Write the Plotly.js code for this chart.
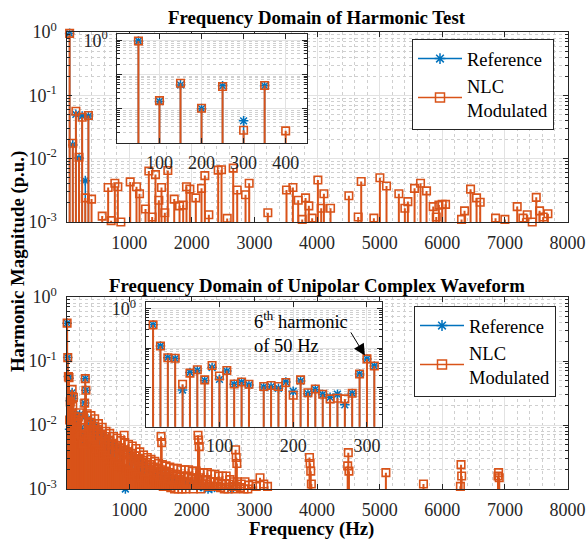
<!DOCTYPE html>
<html><head><meta charset="utf-8">
<script src="https://cdn.plot.ly/plotly-3.0.1.min.js"></script>
<style>html,body{margin:0;padding:0;background:#fff}#chart{width:588px;height:542px}</style>
</head><body><div id="chart"></div>
<script>
// ---------- Top panel: Frequency Domain of Harmonic Test ----------
const harmRefFreq = [50, 100, 150, 200, 250, 300, 350];
const harmRefVal  = [0.95, 0.0165, 0.050, 0.0102, 0.047, 0.0045, 0.047];

const harmNlcFreq = [50, 100, 150, 200, 250, 300, 350, 400,
  570, 665, 713, 772, 820, 868, 1017, 1118, 1166, 1262, 1315, 1368, 1421, 1475, 1517, 1570,
  1618, 1720, 1805, 1863, 1916, 1970, 2065, 2156, 2209, 2273, 2422, 2475, 2566, 2662, 2726,
  2859, 2917, 3215, 3513, 3615, 3700, 3764, 3817, 3870, 3923, 4014, 4067, 4110, 4216, 4509,
  4658, 4706, 4908, 5004, 5110, 5307, 5403, 5451, 5558, 5653, 5749, 5856, 5904, 5946, 5999,
  6053, 6308, 6356, 6452, 6548, 6606, 6851, 7000, 7197, 7288, 7357, 7437, 7501, 7554, 7612, 7687];
const harmNlcVal = [0.95, 0.0175, 0.056, 0.0105, 0.045, 0.0024, 0.048, 0.0023,
  0.00124, 0.0035, 0.00105, 0.0041, 0.0036, 0.0010, 0.0043, 0.0036, 0.0028, 0.0016, 0.0064, 0.0012, 0.0056, 0.0022, 0.0035, 0.0014,
  0.0065, 0.0023, 0.0018, 0.00185, 0.0036, 0.0033, 0.0024, 0.0034, 0.0054, 0.0013, 0.0066, 0.0067, 0.00114, 0.0071, 0.0032,
  0.0027, 0.0041, 0.0014, 0.0032, 0.0035, 0.0022, 0.0011, 0.0024, 0.0018, 0.00115, 0.0046, 0.00165, 0.0028, 0.00165, 0.0026,
  0.0012, 0.00435, 0.00115, 0.0050, 0.0037, 0.0028, 0.00165, 0.0021, 0.0034, 0.0041, 0.0031, 0.00175, 0.0012, 0.00185, 0.0019,
  0.0019, 0.0011, 0.0015, 0.0033, 0.0024, 0.00205, 0.00115, 0.0011, 0.00175, 0.00115, 0.0013, 0.0010, 0.00245, 0.0015, 0.0012, 0.00135];

// ---------- Bottom panel: Unipolar Complex Waveform ----------
const lowFreqB = [10, 20, 30, 40, 50, 60, 70, 80, 90, 100, 110, 120, 130, 140, 160, 170, 180, 190, 200, 210,
  220, 230, 240, 250, 260, 270, 280, 290, 300, 310];
const lowNlcB = [0.39, 0.113, 0.057, 0.055, 0.012, 0.023, 0.028, 0.0155, 0.036, 0.0195, 0.027, 0.0122, 0.0137, 0.012, 0.0105, 0.0112, 0.0105, 0.0133, 0.0063, 0.0155,
  0.0073, 0.0091, 0.0067, 0.0051, 0.0053, 0.0051, 0.0071, 0.022, 0.053, 0.035];
const lowRefB = [0.39, 0.113, 0.057, 0.054, 0.0086, 0.024, 0.027, 0.015, 0.032, 0.016, 0.026, 0.012, 0.0135, 0.0115, 0.0103, 0.0104, 0.0095, 0.0137, 0.0080, 0.0145,
  0.0069, 0.0089, 0.0066, 0.0056, 0.0067, 0.0036, 0.0070, 0.022, 0.053, 0.035];

const midFreqB = [330, 360, 390, 420, 450, 480, 510, 540, 570, 600, 630, 660, 690, 720, 750, 780, 810, 840, 870, 900,
  930, 960, 990, 1020, 1050, 1080, 1110, 1140, 1170, 1200, 1230, 1260, 1290, 1320, 1350, 1380, 1410, 1440, 1470, 1500,
  1530, 1560, 1590, 1620, 1650, 1680, 1710, 1740, 1770, 1800, 1830, 1860, 1890, 1920, 1950, 1980, 2010, 2040, 2070, 2100,
  2130, 2160, 2190, 2220, 2250, 2280, 2310, 2340, 2370, 2400, 2430, 2460, 2490, 2520, 2550, 2580, 2610, 2640, 2670, 2700,
  2730, 2760, 2790, 2820, 2850, 2880, 2910, 2940, 2970, 3000, 3030, 3060, 3090, 3120, 3150, 3180, 3210];
const midNlcB = [0.0150, 0.0100, 0.0140, 0.0085, 0.0125, 0.0075, 0.0105, 0.0068, 0.0092, 0.0060, 0.0080, 0.0052, 0.0074, 0.0049, 0.0066, 0.0043, 0.0062, 0.0040, 0.0057, 0.0036,
  0.0053, 0.0034, 0.0050, 0.0031, 0.0047, 0.0029, 0.0043, 0.0027, 0.0038, 0.0025, 0.0034, 0.0022, 0.0031, 0.0020, 0.0029, 0.0019, 0.0027, 0.0018, 0.0025, 0.0017,
  0.0024, 0.0016, 0.0023, 0.0015, 0.0022, 0.0015, 0.0021, 0.0014, 0.0021, 0.0014, 0.0020, 0.0013, 0.0020, 0.0013, 0.0020, 0.0012, 0.0019, 0.0013, 0.0019, 0.0014,
  0.0018, 0.0012, 0.0018, 0.0012, 0.0018, 0.0011, 0.0017, 0.0011, 0.0017, 0.0011, 0.0016, 0.00105, 0.0016, 0.0010, 0.0016, 0.0010, 0.0014, 0.00095, 0.0013, 0.0010,
  0.0013, 0.0009, 0.0012, 0.0009, 0.0013, 0.0009, 0.00115, 0.0008, 0.0012, 0.0009, 0.0011, 0.0008, 0.0015, 0.0009, 0.0012, 0.0008, 0.0011];

const midFreqB2 = [345, 375, 405, 435, 465, 495, 525, 555, 585, 615, 645, 675, 705, 735, 765, 795, 825, 855, 885, 915,
  945, 975, 1005, 1035, 1065, 1095, 1125, 1155, 1185, 1215, 1245, 1275, 1305, 1335, 1365, 1395, 1425, 1455, 1485, 1515,
  1545, 1575, 1605, 1635, 1665, 1695, 1725, 1755, 1785, 1815, 1845, 1875, 1905, 1935, 1965, 1995, 2025, 2055, 2085, 2115,
  2145, 2175, 2205, 2235, 2265, 2295, 2325, 2355, 2385, 2415, 2445, 2475, 2505, 2535, 2565, 2595, 2625, 2655, 2685, 2715,
  2745, 2775, 2805, 2835, 2865, 2895, 2925, 2955, 2985, 3015, 3045, 3075, 3105, 3135, 3165, 3195];
const midNlcB2 = [0.0060, 0.0110, 0.0050, 0.0095, 0.0042, 0.0085, 0.0038, 0.0072, 0.0034, 0.0066, 0.0030, 0.0058, 0.0027, 0.0052, 0.0025, 0.0048, 0.0023, 0.0044, 0.0021, 0.0041,
  0.0020, 0.0038, 0.0018, 0.0036, 0.0017, 0.0033, 0.0016, 0.0030, 0.0015, 0.0028, 0.0014, 0.0026, 0.0013, 0.0024, 0.0013, 0.0022, 0.0012, 0.0021, 0.0012, 0.0020,
  0.0011, 0.0019, 0.0011, 0.0018, 0.00105, 0.0017, 0.0010, 0.0017, 0.0010, 0.0016, 0.0010, 0.0016, 0.0010, 0.0016, 0.0009, 0.0015, 0.0010, 0.0015, 0.0009, 0.0015,
  0.0010, 0.0014, 0.0009, 0.0014, 0.0009, 0.0013, 0.0009, 0.0013, 0.0009, 0.0013, 0.0009, 0.0012, 0.0009, 0.0012, 0.0008, 0.0012, 0.0008, 0.0011, 0.0008, 0.0011,
  0.0008, 0.00105, 0.0008, 0.0010, 0.0008, 0.0010, 0.0008, 0.0009, 0.0008, 0.0009, 0.0008, 0.0009, 0.0008, 0.0009, 0.0008, 0.0009];

const midRefFreqB = [340, 400, 460, 520, 580, 640, 700, 760, 820, 880, 940, 1000, 1060, 1120, 1180, 1240, 1300, 1360, 1420, 1480,
  1540, 1600, 1660, 1720, 1780, 1840, 1900, 1960, 2020, 2080, 2140, 2200, 2260, 2320, 2380, 2440, 2500, 2560, 2620];
const midRefB = [0.0125, 0.0115, 0.0098, 0.0082, 0.0070, 0.0062, 0.0056, 0.0048, 0.0044, 0.0039, 0.0010, 0.0036, 0.0031, 0.0029, 0.0026, 0.0023, 0.0021, 0.0020, 0.0018, 0.0017,
  0.0016, 0.0016, 0.0015, 0.0014, 0.0014, 0.0013, 0.0013, 0.0012, 0.0012, 0.0011, 0.0011, 0.00105, 0.0010, 0.00102, 0.00098, 0.00095, 0.0009, 0.00092, 0.00102];

const spikeFreqB = [920, 1510, 1520, 2100, 2110, 2120, 2700, 2710, 2720, 3880, 3890, 3900, 3910,
  4490, 4500, 4510, 5100, 5700, 6290, 6300, 6310, 6890, 6900, 6910];
const spikeNlcB = [0.0069, 0.0066, 0.0053, 0.0069, 0.0058, 0.0046, 0.0041, 0.0031, 0.0025, 0.0031, 0.0025, 0.0019, 0.0012,
  0.0023, 0.0037, 0.0019, 0.0018, 0.0012, 0.0011, 0.0024, 0.0016, 0.0016, 0.0018, 0.0015];

// ---------- ticks ----------
const decadeVals = [0.001, 0.01, 0.1, 1];
const decadeText = ['10<sup>-3</sup>', '10<sup>-2</sup>', '10<sup>-1</sup>', '10<sup>0</sup>'];
const insetDecadeText = ['', '', '', '10<sup>0</sup>'];
const mainXTicks = [1000, 2000, 3000, 4000, 5000, 6000, 7000, 8000];
const topInsetXTicks = [100, 200, 300, 400];
const botInsetXTicks = [100, 200, 300];

// ---------- build ----------
const BLUE = '#0072BD', ORANGE = '#D95319';
const FONT = 'Liberation Serif';
const minorVals = [];
for (let d = -3; d <= 0; d++) for (let k = 2; k <= 9; k++) minorVals.push(k * Math.pow(10, d));

const nlcFreqB = lowFreqB.concat(midFreqB, midFreqB2, spikeFreqB);
const nlcValB = lowNlcB.concat(midNlcB, midNlcB2, spikeNlcB);
const refFreqB = lowFreqB.concat(midRefFreqB);
const refValB = lowRefB.concat(midRefB);

function stemXY(freqs, vals) {
  const x = [], y = [];
  freqs.forEach((f, i) => { x.push(f, f, null); y.push(1e-6, vals[i], null); });
  return {x, y};
}
const traces = [];
function addSeries(freqs, vals, xa, ya, color, symbol, lw, ms, mlw) {
  const s = stemXY(freqs, vals);
  traces.push({type: 'scatter', mode: 'lines', x: s.x, y: s.y, xaxis: xa, yaxis: ya,
    line: {color: color, width: lw}, showlegend: false, hoverinfo: 'skip'});
  traces.push({type: 'scatter', mode: 'markers', x: freqs, y: vals, xaxis: xa, yaxis: ya, cliponaxis: false,
    marker: {symbol: symbol, size: ms, color: color, line: {color: color, width: mlw}},
    showlegend: false, hoverinfo: 'skip'});
}
[['x', 'y'], ['x2', 'y2']].forEach(([xa, ya]) => {
  addSeries(harmRefFreq, harmRefVal, xa, ya, BLUE, 'asterisk-open', 1.5, 8, 1.5);
  addSeries(harmNlcFreq, harmNlcVal, xa, ya, ORANGE, 'square-open', 2, 7.5, 1.6);
});
[['x3', 'y3'], ['x4', 'y4']].forEach(([xa, ya]) => {
  addSeries(refFreqB, refValB, xa, ya, BLUE, 'asterisk-open', 1.5, 8, 1.5);
  addSeries(nlcFreqB, nlcValB, xa, ya, ORANGE, 'square-open', 2, 7.5, 1.6);
});
// legend entries
[['x', 'y', 'legend'], ['x3', 'y3', 'legend2']].forEach(([xa, ya, lg]) => {
  traces.push({type: 'scatter', mode: 'lines+markers', x: [null], y: [null], xaxis: xa, yaxis: ya, legend: lg,
    name: 'Reference', line: {color: BLUE, width: 1.5},
    marker: {symbol: 'asterisk-open', size: 9, color: BLUE, line: {color: BLUE, width: 1.5}}});
  traces.push({type: 'scatter', mode: 'lines+markers', x: [null], y: [null], xaxis: xa, yaxis: ya, legend: lg,
    name: 'NLC<br>Modulated', line: {color: ORANGE, width: 1.5},
    marker: {symbol: 'square-open', size: 9, color: ORANGE, line: {color: ORANGE, width: 1.5}}});
});

const tickFont = {family: FONT, size: 18, color: '#262626'};
function xAxis(domain, anchor, range, tickvals, isMain) {
  const a = {domain: domain, anchor: anchor, range: range, tickmode: 'array', tickvals: tickvals,
    showline: true, linecolor: '#262626', linewidth: 1, mirror: 'ticks', ticks: 'inside', ticklen: 5,
    tickcolor: '#262626', showgrid: true, gridcolor: '#e2e2e2', zeroline: false, tickfont: tickFont,
    ticklabelstandoff: isMain ? 4 : 3, fixedrange: true};
  if (isMain) a.minor = {dtick: 200, ticks: '', showgrid: true, gridcolor: '#cfcfcf', griddash: 'dot', gridwidth: 1};
  return a;
}
function yAxis(domain, anchor, range, ticktext) {
  return {domain: domain, anchor: anchor, type: 'log', range: range, tickmode: 'array',
    tickvals: decadeVals, ticktext: ticktext,
    showline: true, linecolor: '#262626', linewidth: 1, mirror: 'ticks', ticks: 'inside', ticklen: 5,
    tickcolor: '#262626', showgrid: true, gridcolor: '#e2e2e2', zeroline: false, tickfont: tickFont,
    ticklabelstandoff: 5, fixedrange: true,
    minor: {tickmode: 'array', tickvals: minorVals, ticks: 'inside', ticklen: 3, tickcolor: '#262626',
      showgrid: true, gridcolor: '#cfcfcf', griddash: 'dot', gridwidth: 1}};
}
const topMainX = [66.5 / 588, 567.5 / 588];
const legendStyle = {xanchor: 'left', yanchor: 'top', bgcolor: '#fff', bordercolor: '#262626', borderwidth: 1,
  font: {family: FONT, size: 18.5, color: '#000'}, tracegroupgap: 0, itemwidth: 44};
const layout = {
  width: 588, height: 542, margin: {l: 0, r: 0, t: 0, b: 0},
  paper_bgcolor: '#fff', plot_bgcolor: '#fff', showlegend: true,
  font: {family: FONT, color: '#000'},
  xaxis: xAxis(topMainX, 'y', [0, 8000], mainXTicks, true),
  yaxis: yAxis([1 - 222 / 542, 1 - 32 / 542], 'x', [-3, 0], decadeText),
  xaxis2: xAxis([117.4 / 588, 306.7 / 588], 'y2', [0, 450], topInsetXTicks, false),
  yaxis2: yAxis([1 - 143.3 / 542, 1 - 34 / 542], 'x2', [-3, 0.18], insetDecadeText),
  xaxis3: xAxis(topMainX, 'y3', [0, 8000], mainXTicks, true),
  yaxis3: yAxis([1 - 489 / 542, 1 - 297 / 542], 'x3', [-3, 0], decadeText),
  xaxis4: xAxis([145.7 / 588, 381.7 / 588], 'y4', [0, 320], botInsetXTicks, false),
  yaxis4: yAxis([1 - 426.7 / 542, 1 - 301.7 / 542], 'x4', [-3, 0.18], insetDecadeText),
  legend: Object.assign({x: 412 / 588, y: 1 - 39 / 542}, legendStyle),
  legend2: Object.assign({x: 414 / 588, y: 1 - 306 / 542}, legendStyle),
  annotations: [
    {text: '<b>Frequency Domain of Harmonic Test</b>', xref: 'paper', yref: 'paper', x: 317 / 588, y: 1 - 17 / 542,
      xanchor: 'center', yanchor: 'middle', showarrow: false, font: {family: FONT, size: 18.8, color: '#000'}},
    {text: '<b>Frequency Domain of Unipolar Complex Waveform</b>', xref: 'paper', yref: 'paper', x: 317 / 588, y: 1 - 285 / 542,
      xanchor: 'center', yanchor: 'middle', showarrow: false, font: {family: FONT, size: 18.8, color: '#000'}},
    {text: '<b>Frequency (Hz)</b>', xref: 'paper', yref: 'paper', x: 311 / 588, y: 1 - 529 / 542,
      xanchor: 'center', yanchor: 'middle', showarrow: false, font: {family: FONT, size: 18.8, color: '#000'}},
    {text: '<b>Harmonic Magnitude (p.u.)</b>', xref: 'paper', yref: 'paper', x: 18 / 588, y: 1 - 262 / 542,
      xanchor: 'center', yanchor: 'middle', textangle: -90, showarrow: false, font: {family: FONT, size: 18.8, color: '#000'}},
    {text: '6<sup>th</sup> harmonic<br>of 50 Hz', xref: 'paper', yref: 'paper', x: 252 / 588, y: 1 - 306 / 542,
      xanchor: 'left', yanchor: 'top', align: 'left', showarrow: false, font: {family: FONT, size: 18.5, color: '#000'}},
    {text: '', xref: 'x4', yref: 'y4', x: 300, y: Math.log10(lowNlcB[lowFreqB.indexOf(300)]),
      showarrow: true, arrowhead: 2, arrowsize: 2.3, arrowwidth: 1, arrowcolor: '#000', ax: -17, ay: -28, standoff: 4}
  ]
};
Plotly.newPlot('chart', traces, layout, {staticPlot: true, displayModeBar: false});
</script>
</body></html>
